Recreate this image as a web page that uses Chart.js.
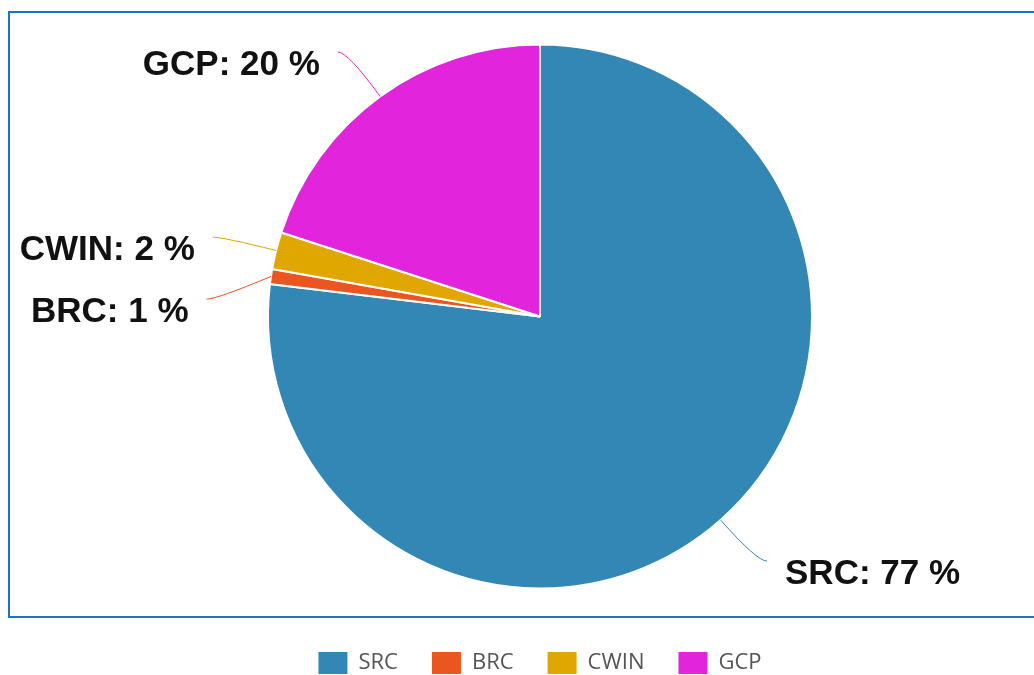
<!DOCTYPE html>
<html>
<head>
<meta charset="utf-8">
<script src="https://cdn.jsdelivr.net/npm/chart.js@4"></script>
<style>
  body { margin: 0; background: #fff; overflow: hidden; }
  #frame {
    position: absolute; left: 8px; top: 11px;
    width: 1100px; height: 607px;
    border: 2px solid #1b72c6; box-sizing: border-box;
  }
  #wrap { position: absolute; left: 0; top: 0; width: 1080px; height: 684px; }
</style>
</head>
<body>
<div id="frame"></div>
<div id="wrap"><canvas id="myChart"></canvas></div>
<script>
// data
const labels = ['SRC', 'BRC', 'CWIN', 'GCP'];
const values = [76.9, 0.9, 2.2, 20];
const colors = ['#3387b5', '#ea5520', '#e0a700', '#e224dd'];

// labels outside the pie with curved leader lines
const pieLabels = {
  id: 'pieLabels',
  afterDraw(chart) {
    const ctx = chart.ctx;
    const meta = chart.getDatasetMeta(0);
    const total = values.reduce((a, b) => a + b, 0);

    const items = meta.data.map((arc, i) => {
      const p = arc.getProps(['x', 'y', 'startAngle', 'endAngle', 'outerRadius'], true);
      const mid = (p.startAngle + p.endAngle) / 2;
      const c = Math.cos(mid), s = Math.sin(mid);
      return {
        i: i,
        right: c >= 0,
        ex: p.x + p.outerRadius * c,
        ey: p.y + p.outerRadius * s,
        px: p.x + (p.outerRadius + 55) * c,
        py: p.y + (p.outerRadius + 55) * s
      };
    });

    // keep labels on the same side from overlapping
    [true, false].forEach(side => {
      const list = items.filter(it => it.right === side).sort((a, b) => a.py - b.py);
      for (let k = 1; k < list.length; k++) {
        if (list[k].py - list[k - 1].py < 62) list[k].py = list[k - 1].py + 62;
      }
    });

    ctx.save();
    items.forEach(it => {
      const dir = it.right ? 1 : -1;
      const endX = it.px + dir * 10;

      ctx.strokeStyle = colors[it.i];
      ctx.lineWidth = 1;
      ctx.beginPath();
      ctx.moveTo(it.ex, it.ey);
      ctx.quadraticCurveTo(it.px, it.py, endX, it.py);
      ctx.stroke();

      const pct = Math.round(values[it.i] / total * 100);
      ctx.fillStyle = '#111';
      ctx.font = 'bold 35px "Liberation Sans", Arial, sans-serif';
      ctx.textBaseline = 'middle';
      ctx.textAlign = it.right ? 'left' : 'right';
      ctx.fillText(labels[it.i] + ': ' + pct + ' %', endX + dir * 18, it.py + 13);
    });
    ctx.restore();
  }
};

const ctx = document.getElementById('myChart');
new Chart(ctx, {
  type: 'pie',
  data: {
    labels: labels,
    datasets: [{
      data: values,
      backgroundColor: colors,
      borderColor: '#fff',
      borderWidth: 2,
      radius: 272
    }]
  },
  options: {
    responsive: true,
    maintainAspectRatio: false,
    animation: false,
    layout: { padding: { top: 15 } },
    plugins: {
      legend: {
        position: 'bottom',
        labels: {
          boxWidth: 29,
          boxHeight: 22,
          padding: 34,
          color: '#555',
          font: { family: '"Open Sans", sans-serif', size: 22 },
          // solid boxes, no white outline
          generateLabels(chart) {
            const items = Chart.overrides.pie.plugins.legend.labels.generateLabels(chart);
            items.forEach(it => { it.lineWidth = 0; });
            return items;
          }
        }
      },
      tooltip: { enabled: false }
    }
  },
  plugins: [pieLabels]
});
</script>
</body>
</html>
